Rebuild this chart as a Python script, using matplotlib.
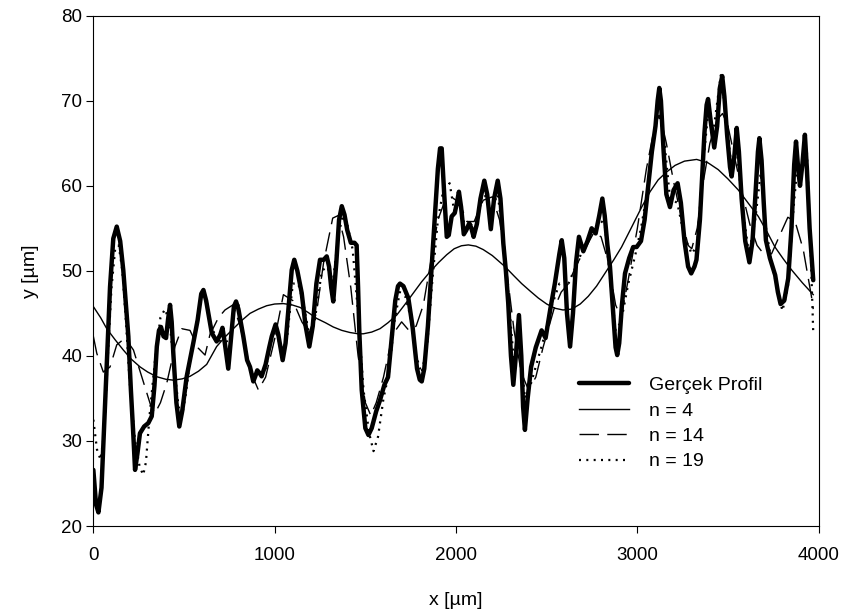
import matplotlib
matplotlib.use("Agg")
import matplotlib.pyplot as plt

plt.rcParams['font.family'] = ['Liberation Sans', 'DejaVu Sans']

# ---- Data ----
prof_x = [0, 15, 28, 45, 65, 80, 92, 110, 129, 148, 165, 180, 193, 207, 221, 230, 243, 257, 280, 303,
          322, 337, 350, 362, 373, 387, 401, 412, 423, 432, 441, 458, 474, 490, 515, 551, 575, 595, 607, 622,
          638, 653, 680, 700, 712, 725, 744, 760, 775, 787, 800, 827, 848, 864, 882, 893, 904, 916, 928, 950,
          970, 984, 1005, 1020, 1044, 1060, 1080, 1094, 1108, 1125, 1149, 1170, 1191, 1210, 1230, 1250, 1270, 1287, 1300, 1312,
          1323, 1340, 1355, 1370, 1385, 1400, 1420, 1440, 1452, 1460, 1467, 1480, 1500, 1517, 1535, 1560, 1581, 1605, 1625, 1645,
          1665, 1680, 1691, 1710, 1737, 1760, 1785, 1800, 1811, 1825, 1845, 1866, 1885, 1900, 1912, 1921, 1935, 1949, 1960, 1976,
          1993, 2005, 2016, 2028, 2043, 2057, 2073, 2085, 2097, 2115, 2135, 2156, 2172, 2192, 2210, 2230, 2245, 2261, 2275, 2288,
          2303, 2316, 2330, 2347, 2360, 2370, 2380, 2395, 2414, 2440, 2472, 2494, 2520, 2545, 2570, 2583, 2597, 2612, 2629, 2645,
          2662, 2678, 2702, 2725, 2748, 2770, 2790, 2807, 2820, 2835, 2849, 2865, 2880, 2889, 2900, 2915, 2932, 2955, 2977, 2996,
          3020, 3040, 3060, 3080, 3100, 3112, 3121, 3130, 3145, 3160, 3180, 3200, 3222, 3240, 3260, 3280, 3297, 3315, 3326, 3345,
          3360, 3370, 3382, 3390, 3405, 3424, 3440, 3455, 3468, 3480, 3495, 3511, 3520, 3535, 3548, 3560, 3575, 3595, 3618, 3635,
          3650, 3665, 3673, 3685, 3697, 3709, 3731, 3760, 3775, 3790, 3810, 3832, 3850, 3865, 3875, 3887, 3897, 3910, 3924, 3935,
          3950, 3970]
prof_y = [26.6, 22.5, 21.6, 24.5, 34.4, 42.0, 48.1, 53.8, 55.2, 53.5, 50.1, 46.0, 42.3, 36.0, 30.5, 26.6, 28.5, 30.9, 31.7, 32.1,
          32.9, 36.5, 41.1, 43.0, 43.4, 42.3, 42.1, 44.3, 46.0, 44.0, 40.3, 34.5, 31.7, 33.5, 37.6, 41.5, 44.2, 47.3, 47.75, 46.5,
          44.5, 42.7, 41.7, 42.5, 43.3, 41.5, 38.5, 42.3, 45.8, 46.4, 45.5, 42.3, 39.5, 38.7, 37.0, 37.6, 38.3, 38.0, 37.6, 39.0,
          41.0, 42.3, 43.7, 42.5, 39.5, 41.5, 46.5, 50.1, 51.3, 50.0, 47.4, 43.6, 41.1, 43.5, 48.5, 51.3, 51.3, 51.7, 50.5, 48.0,
          46.4, 51.0, 56.0, 57.6, 56.6, 54.8, 53.3, 53.3, 53.0, 48.0, 42.7, 36.0, 31.5, 30.7, 31.5, 33.5, 34.8, 36.6, 37.5, 42.0,
          46.5, 48.2, 48.5, 48.2, 46.8, 43.5, 38.5, 37.2, 37.0, 38.5, 43.5, 50.5, 57.0, 62.0, 64.4, 64.4, 59.0, 54.0, 54.2, 56.4,
          56.8, 58.0, 59.3, 57.5, 54.3, 54.8, 55.6, 55.0, 54.0, 55.5, 58.5, 60.6, 59.0, 54.9, 58.5, 60.6, 58.5, 53.2, 50.0, 46.2,
          40.0, 36.6, 40.0, 44.8, 40.0, 34.0, 31.3, 35.0, 38.7, 41.0, 43.0, 42.1, 45.5, 48.5, 52.0, 53.6, 51.5, 45.0, 41.1, 45.0,
          51.0, 54.0, 52.3, 53.5, 55.0, 54.4, 56.5, 58.5, 56.5, 53.0, 50.5, 45.5, 41.0, 40.1, 41.5, 46.0, 49.7, 51.5, 52.8, 52.8,
          53.5, 56.0, 60.0, 64.0, 67.0, 70.0, 71.5, 70.0, 64.0, 59.0, 57.5, 59.5, 60.3, 58.0, 53.5, 50.5, 49.7, 50.5, 51.3, 56.0,
          62.0, 66.2, 69.5, 70.2, 67.5, 64.5, 67.0, 71.5, 72.9, 70.5, 66.0, 62.2, 61.1, 63.5, 66.8, 64.0, 58.5, 53.5, 51.0, 53.5,
          58.5, 64.0, 65.6, 63.0, 58.0, 53.6, 51.5, 49.5, 47.5, 46.1, 46.5, 49.1, 55.0, 62.5, 65.2, 62.0, 60.0, 62.5, 66.0, 62.0,
          55.0, 48.9]

n4_x = [0, 40, 74, 120, 165, 210, 258, 300, 350, 400, 441, 490, 533, 580, 625, 680, 725, 772, 820, 864,
        910, 956, 1000, 1048, 1095, 1140, 1185, 1232, 1280, 1323, 1370, 1415, 1460, 1489, 1535, 1581, 1625, 1673, 1720, 1765,
        1810, 1857, 1905, 1949, 1990, 2030, 2068, 2110, 2150, 2200, 2270, 2320, 2362, 2410, 2454, 2500, 2546, 2590, 2638, 2685,
        2729, 2775, 2821, 2870, 2913, 2970, 3024, 3070, 3115, 3160, 3208, 3260, 3327, 3390, 3446, 3500, 3557, 3610, 3667, 3715,
        3759, 3805, 3851, 3910, 3970]
n4_y = [45.8, 44.5, 43.2, 41.9, 40.7, 39.6, 38.7, 38.1, 37.55, 37.25, 37.15, 37.3, 37.6, 38.2, 39.0, 41.1, 42.2, 43.2, 44.2, 45.0,
        45.5, 45.9, 46.1, 46.15, 46.0, 45.7, 45.1, 44.4, 43.9, 43.4, 43.0, 42.75, 42.6, 42.6, 42.8, 43.2, 43.9, 44.8, 46.1, 47.4,
        48.7, 49.9, 51.0, 51.9, 52.6, 52.95, 53.05, 52.9, 52.5, 51.8, 50.5, 49.4, 48.5, 47.6, 46.8, 46.1, 45.6, 45.4, 45.5, 46.1,
        47.0, 48.2, 49.7, 51.3, 52.8, 55.2, 57.5, 59.3, 60.7, 61.6, 62.4, 62.9, 63.1, 62.7, 61.9, 60.8, 59.5, 58.0, 56.4, 54.6,
        52.8, 51.4, 50.1, 48.6, 47.2]

n14_x = [0, 19, 55, 92, 129, 175, 221, 267, 313, 340, 370, 405, 450, 487, 533, 579, 616, 643, 690, 726,
         770, 810, 860, 910, 950, 1000, 1048, 1100, 1150, 1190, 1230, 1270, 1320, 1350, 1380, 1420, 1460, 1500, 1530, 1560,
         1600, 1650, 1700, 1740, 1780, 1820, 1860, 1900, 1940, 1980, 2020, 2060, 2100, 2150, 2200, 2240, 2280, 2320, 2360, 2400,
         2440, 2480, 2540, 2580, 2620, 2660, 2710, 2760, 2800, 2840, 2880, 2910, 2950, 3000, 3050, 3100, 3125, 3160, 3200, 3240,
         3280, 3300, 3330, 3360, 3400, 3440, 3470, 3500, 3540, 3580, 3620, 3660, 3700, 3740, 3790, 3830, 3870, 3915, 3960, 3970]
n14_y = [42.3, 40.3, 38.1, 38.7, 41.3, 42.1, 40.7, 37.55, 34.4, 33.25, 34.5, 36.8, 41.1, 43.2, 43.0, 40.9, 40.1, 42.5, 44.5, 45.4,
         46.0, 43.5, 38.5, 36.0, 37.5, 42.0, 47.2, 46.5, 44.0, 42.7, 45.0, 51.0, 56.2, 56.5, 54.0, 48.0, 40.0, 34.5, 33.0, 34.5,
         37.5, 42.5, 44.0, 43.0, 43.5, 46.0, 51.0, 56.0, 58.3, 58.6, 58.0, 55.8, 55.8, 58.3, 58.7, 56.0, 50.0, 43.0, 38.0, 36.0,
         37.5, 41.0, 45.5, 47.5, 48.5, 50.5, 52.5, 54.5, 54.0, 51.0, 46.0, 44.5, 49.0, 55.0, 62.0, 67.5, 68.3, 65.0, 60.5, 56.5,
         53.0, 52.6, 55.0, 60.0, 65.0, 67.8, 68.5, 67.0, 63.0, 59.0, 55.5, 53.0, 51.9, 52.0, 54.4, 56.3, 55.8, 52.5, 47.0, 45.5]

n19_x = [0, 20, 40, 60, 80, 100, 120, 140, 160, 180, 200, 230, 255, 275, 290, 310, 340, 370, 395, 420,
         445, 470, 490, 510, 540, 570, 600, 620, 650, 690, 720, 750, 780, 800, 830, 860, 890, 920, 950, 980,
         1005, 1040, 1070, 1100, 1130, 1160, 1190, 1220, 1260, 1290, 1320, 1350, 1375, 1400, 1430, 1460, 1490, 1520, 1545, 1570,
         1600, 1630, 1660, 1690, 1720, 1750, 1780, 1810, 1840, 1870, 1900, 1930, 1965, 1990, 2020, 2050, 2080, 2110, 2150, 2190,
         2230, 2260, 2290, 2320, 2350, 2380, 2410, 2450, 2490, 2530, 2570, 2610, 2650, 2700, 2750, 2790, 2820, 2850, 2880, 2910,
         2950, 2990, 3020, 3060, 3100, 3120, 3150, 3180, 3220, 3260, 3300, 3330, 3360, 3390, 3420, 3460, 3490, 3520, 3550, 3580,
         3615, 3650, 3680, 3710, 3740, 3770, 3800, 3830, 3860, 3885, 3910, 3935, 3955, 3970]
n19_y = [32.5, 29.0, 27.8, 31.0, 40.0, 48.0, 52.5, 53.0, 50.0, 44.0, 37.0, 30.0, 27.0, 26.0, 27.5, 33.0, 39.5, 44.5, 45.5, 44.0,
         39.0, 34.0, 33.0, 35.5, 40.5, 44.0, 47.5, 47.0, 43.5, 41.5, 42.5, 41.0, 45.5, 46.0, 42.0, 38.5, 37.5, 38.0, 38.5, 41.5,
         43.0, 40.5, 42.5, 48.5, 48.5, 46.0, 42.5, 44.0, 50.0, 50.5, 48.5, 54.0, 56.5, 55.5, 52.5, 45.0, 36.0, 31.0, 28.8, 30.5,
         35.0, 38.0, 44.0, 47.5, 47.0, 44.5, 40.0, 38.0, 41.0, 49.0, 56.0, 59.5, 60.3, 57.0, 58.5, 55.0, 55.5, 55.0, 59.5, 57.0,
         59.0, 54.0, 47.0, 39.0, 42.0, 35.0, 36.5, 39.5, 42.5, 46.0, 48.5, 48.0, 50.0, 52.5, 54.5, 56.0, 55.5, 49.0, 43.0, 44.0,
         48.5, 52.0, 55.0, 60.0, 67.0, 68.5, 65.0, 58.5, 58.0, 54.0, 52.0, 53.0, 62.0, 68.5, 66.5, 73.0, 68.0, 62.0, 64.0, 57.5,
         52.0, 56.0, 61.5, 55.0, 51.0, 48.0, 45.3, 48.0, 57.0, 63.0, 62.0, 64.0, 53.0, 42.7]

labels = ["Gerçek Profil", "n = 4", "n = 14", "n = 19"]
x_ticks = [0, 1000, 2000, 3000, 4000]
y_ticks = [20, 30, 40, 50, 60, 70, 80]

# ---- Figure ----
fig = plt.figure(figsize=(8.44, 6.15), dpi=100)
ax = fig.add_axes([0.1106, 0.1447, 0.8594, 0.8298])

ax.plot(prof_x, prof_y, color='black', lw=3.2, solid_joinstyle='round', solid_capstyle='round', label=labels[0], zorder=3)
ax.plot(n4_x, n4_y, color='black', lw=1.0, label=labels[1], zorder=4)
ax.plot(n14_x, n14_y, color='black', lw=1.0, linestyle=(0, (14, 6)), label=labels[2], zorder=4)
ax.plot(n19_x, n19_y, color='black', lw=1.6, linestyle=(0, (0.9, 2.4)), label=labels[3], zorder=4)

ax.set_xlim(0, 4000)
ax.set_ylim(20, 80)
ax.set_xticks(x_ticks)
ax.set_yticks(y_ticks)
ax.tick_params(axis='both', direction='out', length=5, width=0.8, labelsize=13.5, colors='black')
ax.tick_params(axis='x', pad=10)
ax.tick_params(axis='y', pad=3)
for s in ax.spines.values():
    s.set_linewidth(0.8)

ax.set_xlabel("x [µm]", fontsize=14)
ax.set_ylabel("y [µm]", fontsize=14)
ax.xaxis.set_label_coords(0.5, -0.145)
ax.xaxis.label.set_va('center')
ax.yaxis.set_label_coords(-0.087, 0.5)
ax.yaxis.label.set_va('center')

ax.legend(loc='upper left', bbox_to_anchor=(0.659, 0.308), frameon=False, fontsize=14,
          handlelength=2.57, handletextpad=1.03, labelspacing=0.4, borderaxespad=0)

fig.savefig("out.png", dpi=100)
